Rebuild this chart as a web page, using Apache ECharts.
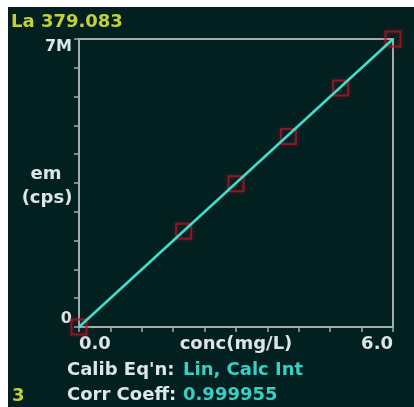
<!DOCTYPE html>
<html>
<head>
<meta charset="utf-8">
<script src="https://cdn.jsdelivr.net/npm/echarts@6/dist/echarts.min.js"></script>
<style>
  html, body { margin: 0; padding: 0; background: #ffffff; }
  #c { position: absolute; left: 8px; top: 7px; width: 406px; height: 400px; }
</style>
</head>
<body>
<div id="c"></div>
<script>
// Calibration standards: concentration (mg/L) and emission (cps)
const concValues = [0, 2, 3, 4, 5, 6];
const emValues = [0, 2.33e6, 3.48e6, 4.63e6, 5.81e6, 7.0e6];

// Fitted calibration line endpoints
const fitConc = [0, 6];
const fitEm = [0, 7.0e6];

// Axis ranges and tick labels
const xMin = 0, xMax = 6, xStep = 0.6;
const yMin = 0, yMax = 7e6, yStep = 0.7e6;
const xTickLabels = { 0: '0.0', 6: '6.0' };
const yTickLabels = { 0: '0', 7: '7M' };

const titleText = 'La 379.083';
const xAxisTitle = 'conc(mg/L)';
const eqnLabel = "Calib Eq'n:";
const eqnValue = 'Lin, Calc Int';
const corrLabel = 'Corr Coeff:';
const corrValue = '0.999955';
const indexText = '3';

const FONT = '"DejaVu Sans", sans-serif';
const WHITE = '#dde6e6';
const CYAN = '#38cfc4';
const GREY = '#a3adad';

const chart = echarts.init(document.getElementById('c'), null, { renderer: 'canvas' });

function txt(x, y, text, color, align) {
  return {
    type: 'text', x: x, y: y, silent: true,
    style: {
      text: text, fill: color, font: 'bold 18px ' + FONT,
      align: align || 'left', verticalAlign: 'middle'
    }
  };
}

chart.setOption({
  backgroundColor: '#032020',
  animation: false,
  grid: {
    left: 71, top: 32, width: 314, height: 288,
    show: true, borderColor: GREY, borderWidth: 2, backgroundColor: 'transparent'
  },
  xAxis: {
    type: 'value', min: xMin, max: xMax, interval: xStep,
    axisLine: { lineStyle: { color: GREY, width: 2 } },
    axisTick: { show: true, length: 5, lineStyle: { color: GREY, width: 1.5 } },
    splitLine: { show: false },
    axisLabel: {
      color: WHITE, fontFamily: FONT, fontWeight: 'bold', fontSize: 18, margin: 8,
      showMinLabel: true, showMaxLabel: true,
      alignMinLabel: 'left', alignMaxLabel: 'right',
      formatter: function (v) {
        const k = Math.round(v * 1000) / 1000;
        return xTickLabels[k] !== undefined ? xTickLabels[k] : '';
      }
    }
  },
  yAxis: {
    type: 'value', min: yMin, max: yMax, interval: yStep,
    axisLine: { show: true, lineStyle: { color: GREY, width: 2 } },
    axisTick: { show: true, length: 5, lineStyle: { color: GREY, width: 1.5 } },
    splitLine: { show: false },
    axisLabel: {
      color: WHITE, fontFamily: FONT, fontWeight: 'bold', fontSize: 16, margin: 7,
      showMinLabel: true, showMaxLabel: true,
      verticalAlignMinLabel: 'bottom', verticalAlignMaxLabel: 'top',
      formatter: function (v) {
        const k = Math.round(v / 1e5) / 10;
        return yTickLabels[k] !== undefined ? yTickLabels[k] : '';
      }
    }
  },
  series: [
    {
      type: 'scatter',
      data: concValues.map((c, i) => [c, emValues[i]]),
      symbol: 'rect', symbolSize: 15,
      clip: false,
      itemStyle: {
        color: 'rgba(0,0,0,0)', borderColor: '#a01a2c', borderWidth: 2,
        shadowColor: 'rgba(160,20,40,0.7)', shadowBlur: 4
      },
      z: 2
    },
    {
      type: 'line',
      data: fitConc.map((c, i) => [c, fitEm[i]]),
      showSymbol: false, symbol: 'none',
      lineStyle: { color: '#3fdfcc', width: 2.5 },
      z: 3
    }
  ],
  graphic: [
    {
      type: 'text', x: 3, y: 15, silent: true,
      style: { text: titleText, fill: '#c4cf3a', font: 'bold 18px ' + FONT, verticalAlign: 'middle' }
    },
    txt(38, 167, 'em', WHITE, 'center'),
    txt(39, 191, '(cps)', WHITE, 'center'),
    txt(228, 337, xAxisTitle, WHITE, 'center'),
    txt(59, 363, eqnLabel, WHITE),
    txt(175, 363, eqnValue, CYAN),
    txt(59, 388, corrLabel, WHITE),
    txt(175, 388, corrValue, CYAN),
    {
      type: 'text', x: 4, y: 389, silent: true,
      style: { text: indexText, fill: '#c4cf3a', font: 'bold 18px ' + FONT, verticalAlign: 'middle' }
    }
  ]
});
</script>
</body>
</html>
